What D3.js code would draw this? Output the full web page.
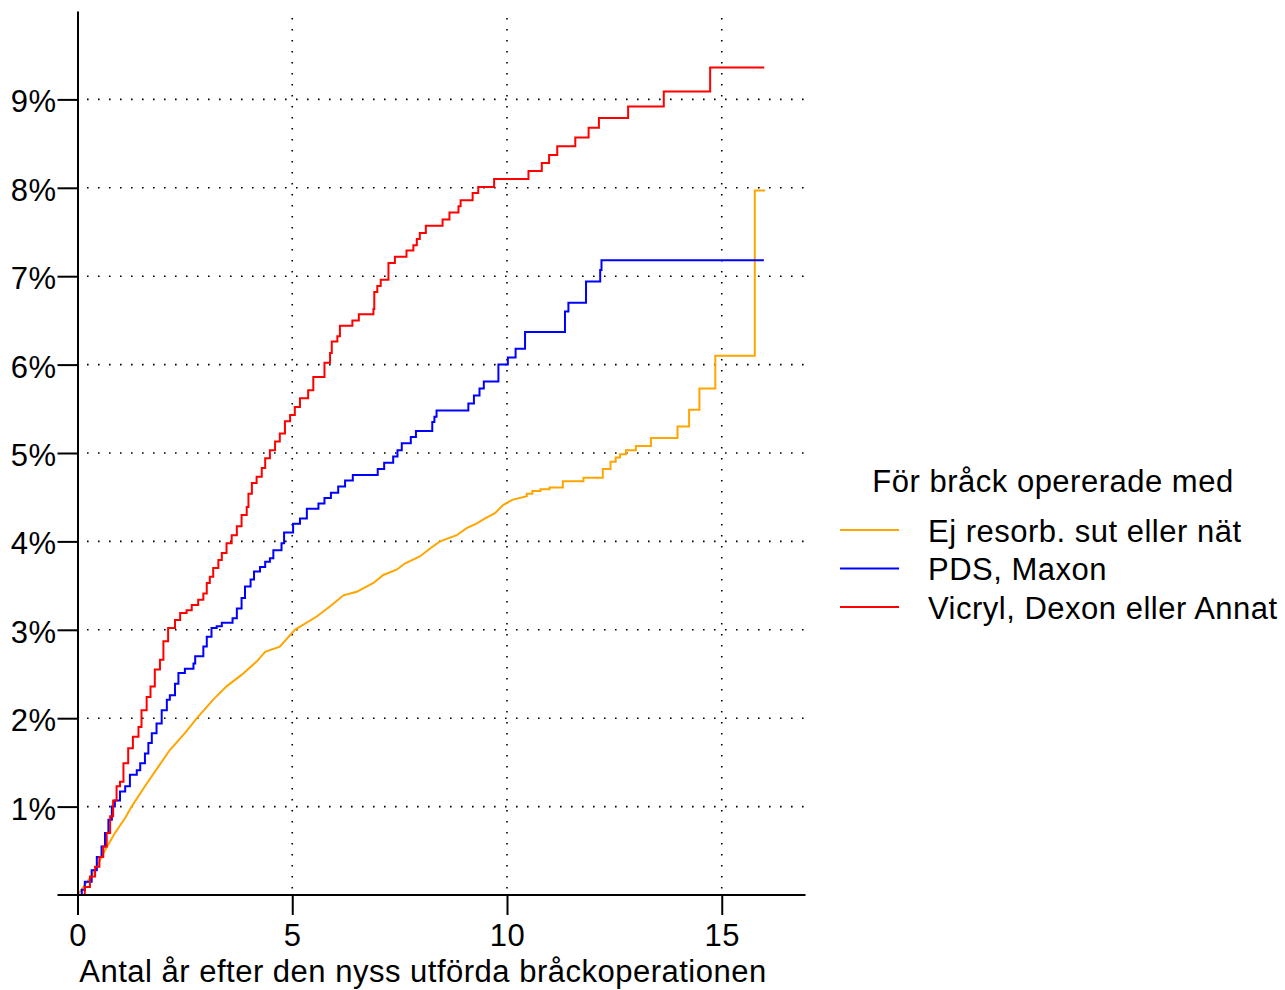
<!DOCTYPE html>
<html><head><meta charset="utf-8">
<script src="https://cdn.jsdelivr.net/npm/d3@7"></script>
<style>
body{margin:0;background:#fff}
svg text{font-family:"Liberation Sans",Arial,sans-serif;fill:#000;letter-spacing:0.5px}
</style>
</head><body>
<svg id="chart" width="1285" height="990"></svg>
<script>
// ---- data ----
const xTicks = [0, 5, 10, 15];
const yTicks = [1, 2, 3, 4, 5, 6, 7, 8, 9];
const yTickLabels = ["1%", "2%", "3%", "4%", "5%", "6%", "7%", "8%", "9%"];
const xTitle = "Antal år efter den nyss utförda bråckoperationen";
const legendTitle = "För bråck opererade med";
const seriesNames = ["Ej resorb. sut eller nät", "PDS, Maxon", "Vicryl, Dexon eller Annat"];
const seriesColors = ["#FFA500", "#0000FF", "#FF0000"];

// [years, cumulative %]
const orangeData = [[0,0],[0.37,0.245],[0.60,0.47],[0.87,0.70],[1.11,0.87],[1.26,1.00],[1.57,1.23],[1.88,1.45],[2.15,1.64],[2.50,1.83],[2.78,2.00],[3.16,2.21],[3.47,2.36],[3.82,2.49],[4.17,2.64],[4.37,2.75],[4.71,2.81],[5.06,3.00],[5.57,3.15],[5.92,3.28],[6.19,3.39],[6.50,3.43],[6.89,3.53],[7.12,3.62],[7.43,3.68],[7.62,3.75],[7.97,3.83],[8.21,3.92],[8.44,4.00],[8.83,4.07],[9.06,4.15],[9.29,4.20],[9.49,4.26],[9.72,4.32],[9.91,4.41],[10.12,4.47],[10.46,4.51],
  [10.46,4.54],[10.59,4.54],[10.59,4.57],[10.78,4.57],[10.78,4.59],[10.99,4.59],[10.99,4.61],[11.30,4.61],[11.30,4.68],[11.78,4.68],[11.78,4.72],[12.23,4.72],[12.23,4.82],[12.41,4.82],[12.41,4.90],[12.53,4.90],[12.53,4.95],[12.63,4.95],[12.63,4.985],[12.77,4.985],[12.77,5.03],[13.0,5.03],[13.0,5.08],[13.35,5.08],[13.35,5.17],[13.97,5.17],[13.97,5.30],[14.24,5.30],[14.24,5.49],[14.48,5.49],[14.48,5.73],[14.85,5.73],[14.85,6.10],[15.77,6.10],[15.77,7.97],[16.01,7.97]];

const blueData = [[0,0],[0.10,0.06],[0.17,0.15],[0.33,0.28],[0.45,0.43],[0.56,0.55],[0.64,0.70],[0.72,0.85],[0.80,1.00],[0.87,1.07],[0.99,1.17],[1.11,1.23],[1.22,1.36],[1.38,1.41],[1.46,1.49],[1.57,1.60],[1.65,1.72],[1.73,1.83],[1.84,1.94],[1.96,2.09],[2.08,2.21],[2.15,2.26],[2.27,2.39],[2.35,2.51],[2.50,2.56],[2.70,2.62],[2.74,2.70],[2.93,2.81],[3.01,2.92],[3.12,3.02],[3.24,3.04],[3.36,3.08],[3.61,3.13],[3.71,3.24],[3.82,3.36],[3.90,3.49],[4.03,3.57],[4.11,3.66],[4.25,3.71],[4.37,3.77],[4.48,3.81],[4.56,3.90],[4.75,3.98],[4.81,4.10],[5.02,4.20],[5.18,4.26],[5.34,4.37],[5.61,4.43],[5.75,4.49],[5.90,4.55],[6.07,4.62],[6.23,4.69],[6.41,4.75],[6.99,4.82],[7.14,4.89],[7.35,4.96],[7.45,5.03],[7.55,5.11],[7.76,5.18],[7.88,5.25],[8.26,5.35],[8.31,5.41],[8.36,5.48],[9.10,5.56],[9.23,5.65],[9.36,5.73],[9.46,5.81],[9.80,6.00],[10.02,6.08],[10.20,6.18],[10.42,6.37],[11.35,6.60],[11.43,6.70],[11.84,6.94],[12.17,7.07],[12.20,7.18],[15.98,7.18]];

const redData = [[0,0],[0.17,0.09],[0.29,0.21],[0.41,0.32],[0.51,0.43],[0.60,0.55],[0.68,0.70],[0.76,0.89],[0.83,1.07],[0.91,1.23],[0.99,1.28],[1.07,1.49],[1.18,1.66],[1.29,1.79],[1.42,1.90],[1.49,2.09],[1.61,2.24],[1.70,2.36],[1.80,2.55],[1.92,2.66],[2.00,2.87],[2.11,3.02],[2.27,3.11],[2.39,3.19],[2.54,3.22],[2.66,3.28],[2.81,3.34],[2.93,3.41],[3.01,3.53],[3.08,3.60],[3.16,3.70],[3.28,3.79],[3.36,3.87],[3.47,3.98],[3.59,4.07],[3.71,4.17],[3.82,4.30],[3.94,4.39],[3.98,4.54],[4.06,4.66],[4.17,4.73],[4.29,4.83],[4.37,4.94],[4.48,5.03],[4.60,5.13],[4.71,5.22],[4.83,5.36],[4.95,5.43],[5.06,5.52],[5.18,5.62],[5.37,5.71],[5.49,5.86],[5.75,6.02],[5.88,6.13],[5.92,6.26],[6.05,6.32],[6.11,6.44],[6.40,6.50],[6.55,6.57],[6.89,6.63],[6.91,6.82],[6.98,6.89],[7.06,6.96],[7.24,7.15],[7.39,7.22],[7.66,7.29],[7.82,7.35],[7.90,7.42],[7.97,7.49],[8.11,7.57],[8.50,7.64],[8.66,7.72],[8.87,7.79],[8.92,7.86],[9.20,7.94],[9.33,8.01],[9.70,8.10],[10.50,8.19],[10.81,8.28],[10.98,8.37],[11.17,8.47],[11.59,8.57],[11.90,8.68],[12.14,8.79],[12.82,8.92],[13.65,9.09],[14.73,9.36],[15.99,9.36]];

// ---- drawing ----
const svg = d3.select("#chart");
const FS = 31;
const x = d3.scaleLinear().domain([0, 16.95]).range([77.5, 805.5]);
const y = d3.scaleLinear().domain([0, 10]).range([895, 11]);
const TICK = 20;

// grid
const grid = svg.append("g").attr("stroke", "#000").attr("stroke-width", 1.6)
  .attr("stroke-dasharray", "1.6 9.4").attr("fill", "none");
grid.selectAll("line.h").data(yTicks).join("line").attr("class", "h")
  .attr("x1", x(0) + 9.5).attr("x2", x.range()[1]).attr("y1", d => y(d)).attr("y2", d => y(d));
grid.selectAll("line.v").data(xTicks.filter(d => d > 0)).join("line").attr("class", "v")
  .attr("x1", d => x(d)).attr("x2", d => x(d)).attr("y1", y(10) + 7).attr("y2", y(0));

// curves
const curves = [
  {data: orangeData, curve: d3.curveLinear},
  {data: blueData, curve: d3.curveStepAfter},
  {data: redData, curve: d3.curveStepAfter}
];
curves.forEach((s, i) => {
  const line = d3.line().x(d => x(d[0])).y(d => y(d[1])).curve(s.curve);
  svg.append("path").datum(s.data).attr("d", line)
    .attr("fill", "none").attr("stroke", seriesColors[i]).attr("stroke-width", 2)
    .attr("stroke-linejoin", "miter");
});

// axes
const yAxis = d3.axisLeft(y).tickValues(yTicks).tickFormat((d, i) => yTickLabels[i])
  .tickSize(TICK).tickSizeOuter(0).tickPadding(1);
const gy = svg.append("g").attr("transform", `translate(${x(0)},0)`).call(yAxis);
gy.selectAll("text").attr("font-size", FS).attr("dy", "0.40em");
gy.selectAll("line,path").attr("stroke", "#000").attr("stroke-width", 2);
gy.attr("font-family", null);

const xAxis = d3.axisBottom(x).tickValues(xTicks).tickFormat(d3.format("d"))
  .tickSize(TICK).tickSizeOuter(0).tickPadding(9);
const gx = svg.append("g").attr("transform", `translate(0,${y(0)})`).call(xAxis);
gx.select(".domain").remove();
gx.selectAll("text").attr("font-size", FS);
gx.selectAll("line").attr("stroke", "#000").attr("stroke-width", 2);
gx.attr("font-family", null);
svg.append("line").attr("x1", x(0) - TICK).attr("x2", x.range()[1])
  .attr("y1", y(0)).attr("y2", y(0)).attr("stroke", "#000").attr("stroke-width", 2);

svg.append("text").attr("x", 423).attr("y", 982).attr("text-anchor", "middle")
  .attr("font-size", FS).text(xTitle);

// legend
const lg = svg.append("g");
lg.append("text").attr("x", 1053).attr("y", 491.5).attr("text-anchor", "middle")
  .attr("font-size", FS).text(legendTitle);
seriesNames.forEach((n, i) => {
  const yy = 530 + i * 38.5;
  lg.append("line").attr("x1", 840).attr("x2", 899).attr("y1", yy).attr("y2", yy)
    .attr("stroke", seriesColors[i]).attr("stroke-width", 2);
  lg.append("text").attr("x", 928).attr("y", yy + 11.5).attr("font-size", FS).text(n);
});
</script>
</body></html>
